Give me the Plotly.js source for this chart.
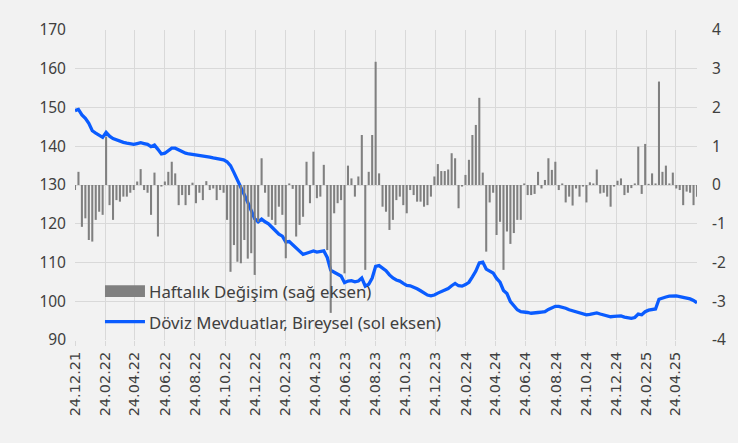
<!DOCTYPE html>
<html>
<head>
<meta charset="utf-8">
<script src="https://cdn.plot.ly/plotly-3.0.1.min.js"></script>
<style>
html,body{margin:0;padding:0;background:#f2f2f2;}
#chart{width:738px;height:443px;}
</style>
</head>
<body>
<div id="chart"></div>
<script>
// Weekly series starting 24.12.2021 (Fridays), 181 weeks
const startDate = '2021-12-24';
const weekCount = 181;

// Haftalık Değişim (sağ eksen) – weekly change, bn USD
const weeklyChange = [
-0.13, 0.34, -1.08, -0.86, -1.42, -1.46, -0.90, -0.69, -0.77, 1.25,
-0.52, -0.90, -0.39, -0.43, -0.30, -0.30, -0.20, -0.13, 0.09, 0.41,
-0.13, -0.20, -0.77, 0.32, -1.33, -0.04, 0.09, 0.34, 0.60, 0.30,
-0.52, -0.26, -0.52, -0.26, 0.06, -0.47, -0.20, -0.39, 0.10, -0.13,
-0.09, -0.39, -0.13, -0.20, -0.90, -2.24, -1.55, -1.98, -2.02, -1.42,
-1.90, -1.76, -2.32, -0.95, 0.69, -0.20, -0.82, -0.90, -1.03, -0.56,
-0.77, -1.89, 0.04, -0.10, -1.33, -1.03, -0.82, 0.60, -0.47, 0.86,
-0.34, -0.30, 0.52, -1.68, -3.30, -0.73, -0.47, -0.39, -2.28, 0.50,
0.17, -0.30, 0.22, 1.29, -2.19, 0.34, 1.29, 3.18, 0.30, -0.56,
-0.69, -1.16, -0.90, -0.39, -0.30, -0.52, -0.73, -0.13, -0.26, -0.43,
-0.43, -0.56, -0.52, -0.30, 0.22, 0.54, 0.36, 0.36, 0.40, 0.82,
0.69, -0.60, -0.04, 0.26, 0.65, 1.29, 1.55, 2.25, 0.32, -1.72,
-0.45, -0.20, -1.29, -0.95, -2.19, -1.20, -1.52, -1.24, -0.90, -0.90,
0.04, -0.26, -0.26, -0.23, 0.34, -0.09, 0.13, 0.69, 0.39, 0.60,
-0.13, 0.04, -0.45, -0.30, -0.53, -0.09, -0.30, -0.04, -0.45, 0.07,
0.04, 0.40, -0.22, -0.20, -0.30, -0.56, -0.04, 0.11, 0.17, -0.26,
-0.20, -0.08, 0.04, 0.99, -0.23, 1.06, 0.03, 0.30, 0.04, 2.67,
0.34, 0.50, 0.04, 0.32, -0.09, -0.13, -0.52, -0.17, -0.20, -0.52,
-0.30
];

// Döviz Mevduatlar, Bireysel (sol eksen) – level, bn USD
const fxDeposits = [
149.2, 149.5, 148.1, 147.2, 145.9, 144.0, 143.4, 142.8, 142.3, 143.6,
142.6, 142.0, 141.6, 141.3, 141.0, 140.8, 140.6, 140.5, 140.7, 140.9,
140.7, 140.5, 139.9, 140.3, 139.2, 138.0, 138.2, 138.9, 139.5, 139.5,
139.0, 138.6, 138.2, 138.0, 137.9, 137.8, 137.5, 137.4, 137.3, 137.2,
137.0, 136.9, 136.7, 136.5, 136.0, 135.0, 133.2, 131.4, 129.5, 127.5,
125.5, 123.3, 121.3, 120.5, 121.2, 120.5, 120.0, 119.1, 118.2, 117.3,
116.8, 115.3, 115.4, 114.5, 113.8, 113.0, 112.1, 112.4, 112.7, 113.0,
112.7, 112.8, 113.0, 111.3, 108.0, 107.5, 107.0, 106.5, 104.8, 105.2,
105.3, 105.0, 105.2, 106.0, 103.9, 104.4, 106.0, 109.0, 109.2, 108.6,
107.9, 106.8, 106.0, 105.5, 105.2, 104.6, 104.1, 104.0, 103.7, 103.2,
102.7, 102.1, 101.6, 101.4, 101.6, 102.1, 102.5, 102.9, 103.3, 104.0,
104.6, 104.0, 103.9, 104.3, 104.9, 106.3, 107.8, 109.9, 110.1, 108.3,
107.7, 107.3, 105.9, 104.9, 102.8, 102.0, 99.9, 98.9, 97.8, 97.3,
97.3, 97.1, 96.9, 96.9, 97.1, 97.2, 97.3, 97.9, 98.4, 98.7,
98.7, 98.5, 98.2, 97.8, 97.5, 97.3, 97.1, 96.8, 96.5, 96.6,
96.8, 97.0, 96.7, 96.5, 96.2, 96.0, 96.1, 96.2, 96.2, 95.9,
95.7, 95.6, 95.8, 96.7, 96.5, 97.3, 97.7, 97.8, 98.0, 100.5,
100.9, 101.1, 101.3, 101.4, 101.4, 101.2, 101.0, 100.9, 100.6, 100.2,
99.6
];

const tickDates = ['2021-12-24','2022-02-24','2022-04-24','2022-06-24','2022-08-24','2022-10-24',
 '2022-12-24','2023-02-24','2023-04-24','2023-06-24','2023-08-24','2023-10-24','2023-12-24',
 '2024-02-24','2024-04-24','2024-06-24','2024-08-24','2024-10-24','2024-12-24','2025-02-24','2025-04-24'];
const tickLabels = ['24.12.21','24.02.22','24.04.22','24.06.22','24.08.22','24.10.22',
 '24.12.22','24.02.23','24.04.23','24.06.23','24.08.23','24.10.23','24.12.23',
 '24.02.24','24.04.24','24.06.24','24.08.24','24.10.24','24.12.24','24.02.25','24.04.25'];
const rightTickVals = [-4, -3, -2, -1, 0, 1, 2, 3, 4];
const rightTickLabels = ['-4', '-3', '-2', '-1', '0', '1', '2', '3', '4'];

const seriesNames = ['Haftalık Değişim (sağ eksen)', 'Döviz Mevduatlar, Bireysel (sol eksen)'];

// weekly date positions
const dates = [];
const d0 = new Date(startDate + 'T00:00:00Z');
for (let i = 0; i < weekCount; i++) {
  const d = new Date(d0.getTime() + i * 7 * 86400000);
  dates.push(d.toISOString().slice(0, 10));
}

const barColor = '#808080';
const lineColor = '#0a5cff';
const gridColor = '#d9d9d9';
const textColor = '#404040';

const traces = [
  {
    type: 'bar', x: dates, y: weeklyChange, yaxis: 'y2', name: seriesNames[0],
    marker: {color: barColor, line: {width: 0}}, showlegend: false, hoverinfo: 'x+y'
  },
  {
    type: 'scatter', mode: 'lines', x: dates, y: fxDeposits, yaxis: 'y', name: seriesNames[1],
    line: {color: lineColor, width: 3.3, shape: 'linear'}, showlegend: false
  }
];

const layout = {
  width: 738, height: 443,
  margin: {l: 75, r: 41, t: 30, b: 103},
  paper_bgcolor: '#f2f2f2', plot_bgcolor: '#f2f2f2',
  font: {family: 'Noto Sans, sans-serif', size: 14, color: textColor},
  bargap: 0.4,
  xaxis: {
    type: 'date', range: [dates[0], dates[dates.length - 1]],
    tickmode: 'array', tickvals: tickDates, ticktext: tickLabels,
    tickangle: -90, tickfont: {family: 'DejaVu Sans', size: 14.5, color: textColor},
    showgrid: true, gridcolor: gridColor, gridwidth: 1,
    ticks: 'outside', ticklen: 5, tickcolor: gridColor,
    showline: false, zeroline: false, fixedrange: true
  },
  yaxis: {
    range: [90, 170], dtick: 10, tick0: 90, side: 'left',
    showgrid: true, gridcolor: gridColor, gridwidth: 1, zeroline: false,
    tickfont: {family: 'Noto Sans', size: 15.5, color: textColor}, ticks: '', ticklabelstandoff: 8
  },
  yaxis2: {
    range: [-4, 4], overlaying: 'y', side: 'right',
    tickmode: 'array', tickvals: rightTickVals, ticktext: rightTickLabels,
    showgrid: false, zeroline: false,
    tickfont: {family: 'Noto Sans', size: 15.5, color: textColor}, ticks: '', ticklabelstandoff: 14
  },
  shapes: [
    {type: 'rect', xref: 'paper', yref: 'paper', x0: 0.0482, x1: 0.1125, y0: 0.139, y1: 0.177,
     fillcolor: barColor, line: {width: 0}},
    {type: 'line', xref: 'paper', yref: 'paper', x0: 0.0482, x1: 0.1125, y0: 0.059, y1: 0.059,
     line: {color: lineColor, width: 3.3}}
  ],
  annotations: [
    {xref: 'paper', yref: 'paper', x: 0.116, y: 0.158, xanchor: 'left', yanchor: 'middle',
     text: seriesNames[0], showarrow: false, font: {family: 'Noto Sans', size: 16.8, color: textColor}},
    {xref: 'paper', yref: 'paper', x: 0.116, y: 0.058, xanchor: 'left', yanchor: 'middle',
     text: seriesNames[1], showarrow: false, font: {family: 'Noto Sans', size: 16.8, color: textColor}}
  ]
};

Plotly.newPlot('chart', traces, layout, {displayModeBar: false, staticPlot: true});
</script>
</body>
</html>
